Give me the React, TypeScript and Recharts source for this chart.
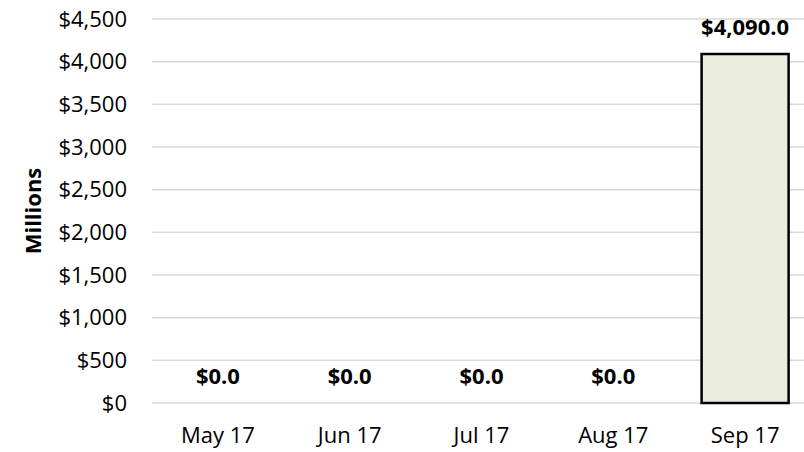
import React from 'react';
import { ComposedChart, Bar, Line, XAxis, YAxis, CartesianGrid, LabelList } from 'recharts';

const months = ['May 17', 'Jun 17', 'Jul 17', 'Aug 17', 'Sep 17'];
const amounts = [0, 0, 0, 0, 4090];
const yTicks = [0, 500, 1000, 1500, 2000, 2500, 3000, 3500, 4000, 4500];

const data = months.map((month, i) => ({ month, amount: amounts[i] }));

const font = '"Open Sans", "Noto Sans", sans-serif';

const money = (v: number) => '$' + v.toLocaleString('en-US');
const moneyLabel = (v: any) =>
  '$' + Number(v).toLocaleString('en-US', { minimumFractionDigits: 1, maximumFractionDigits: 1 });

// value above each point, also for the empty months (zero bars get no labels of their own)
const ValueLabel = (props: any) => {
  const { x, y, value } = props;
  return (
    <text
      x={Number(x)}
      y={Number(y) - 19}
      textAnchor="middle"
      style={{ fontFamily: font, fontSize: 22, fontWeight: 'bold', fill: '#000' }}
    >
      {moneyLabel(value)}
    </text>
  );
};

export default function App() {
  return (
    <div style={{ position: 'absolute', left: 0, top: 0, width: 804, height: 452, overflow: 'hidden', background: '#fff' }}>
      <ComposedChart
        width={830}
        height={452}
        data={data}
        margin={{ top: 19, right: 19, left: 0, bottom: 0 }}
        barCategoryGap="17%"
      >
        <CartesianGrid vertical={false} stroke="#d9d9d9" strokeWidth={1.5} />
        <XAxis
          dataKey="month"
          height={49}
          axisLine={false}
          tickLine={false}
          tickSize={0}
          tickMargin={24}
          tick={{ fill: '#000', fontSize: 22, fontFamily: font }}
        />
        <YAxis
          width={152}
          domain={[0, 4500]}
          ticks={yTicks}
          tickFormatter={money}
          axisLine={false}
          tickLine={false}
          tickSize={0}
          tickMargin={25}
          tick={{ fill: '#000', fontSize: 22, fontFamily: font }}
          label={{
            value: 'Millions',
            angle: -90,
            position: 'insideLeft',
            offset: 33,
            style: { fontFamily: font, fontSize: 22, fontWeight: 'bold', fill: '#000', textAnchor: 'middle' },
          }}
        />
        <Bar dataKey="amount" fill="#ebeedf" stroke="#000" strokeWidth={2.5} isAnimationActive={false} />
        <Line
          dataKey="amount"
          stroke="none"
          dot={false}
          activeDot={false}
          legendType="none"
          isAnimationActive={false}
        >
          <LabelList dataKey="amount" content={ValueLabel} />
        </Line>
      </ComposedChart>
    </div>
  );
}
